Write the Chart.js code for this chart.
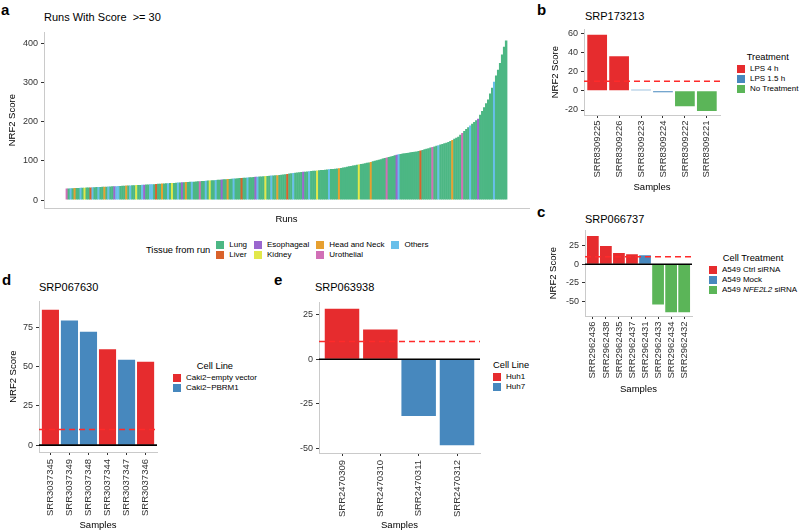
<!DOCTYPE html>
<html>
<head>
<meta charset="utf-8">
<script src="https://cdn.jsdelivr.net/npm/chart.js@4.4.1/dist/chart.umd.min.js"></script>
<style>
  body { margin: 0; background: #fff; font-family: "Liberation Sans", Arial, sans-serif; }
  #fig { position: relative; width: 800px; height: 531px; overflow: hidden; }
  .box { position: absolute; }
  .box canvas { display: block; }
  .lbl { position: absolute; font-weight: bold; font-size: 15px; line-height: 15px; }
  .ttl { position: absolute; font-size: 11px; line-height: 11px; white-space: pre; }
  .leg { position: absolute; color: #000; }
  .leg .lt { font-size: 9.3px; line-height: 13px; text-align: center; white-space: nowrap; }
  .leg .it { font-size: 8px; height: 10px; line-height: 10px; display: flex; align-items: center; white-space: nowrap; }
  .leg .k { width: 8px; height: 8px; margin-right: 5px; flex: none; }
  #legA { display: flex; align-items: center; }
  #legA .lt { margin-right: 6px; }
  #legA .grid { display: grid; grid-template-rows: 10px 10px; grid-auto-flow: column; column-gap: 7px; }
</style>
</head>
<body>
<div id="fig">
  <div class="lbl" style="left:1px;top:2.3px">a</div>
  <div class="ttl" style="left:44px;top:11.7px">Runs With Score  &gt;= 30</div>
  <div class="box" style="left:0;top:24px"><canvas id="cA" width="537" height="201"></canvas></div>
  <div class="leg" id="legA" style="left:146px;top:240px"></div>

  <div class="lbl" style="left:537px;top:2.3px">b</div>
  <div class="ttl" style="left:585px;top:11.4px">SRP173213</div>
  <div class="box" style="left:548px;top:21px"><canvas id="cB" width="180" height="172"></canvas></div>
  <div class="leg" id="legB" style="left:737px;top:50.5px"></div>

  <div class="lbl" style="left:537px;top:204.3px">c</div>
  <div class="ttl" style="left:585px;top:214px">SRP066737</div>
  <div class="box" style="left:546px;top:222px"><canvas id="cC" width="154" height="173"></canvas></div>
  <div class="leg" id="legC" style="left:709px;top:252px"></div>

  <div class="lbl" style="left:2px;top:272.3px">d</div>
  <div class="ttl" style="left:39px;top:282.4px">SRP067630</div>
  <div class="box" style="left:0;top:293px"><canvas id="cD" width="165" height="238"></canvas></div>
  <div class="leg" id="legD" style="left:173px;top:359.5px"></div>

  <div class="lbl" style="left:274px;top:272.3px">e</div>
  <div class="ttl" style="left:315px;top:282.4px">SRP063938</div>
  <div class="box" style="left:295px;top:294px"><canvas id="cE" width="193" height="237"></canvas></div>
  <div class="leg" id="legE" style="left:493px;top:359px"></div>
</div>

<script>
// ---- panel a: all runs with score >= 30, sorted ----
const tissueCodes = ["L", "V", "E", "K", "H", "U", "O"];
const tissueNames = ["Lung", "Liver", "Esophageal", "Kidney", "Head and Neck", "Urothelial", "Others"];
const runScores = [
  29.5, 29.7, 30, 30.2, 30.4, 30.7, 30.9, 31.1, 31.4, 31.6, 31.8, 32, 32.3, 32.5, 32.7, 33, 33.2, 33.4,
  33.6, 33.8, 34.1, 34.4, 34.6, 34.9, 35.2, 35.5, 35.7, 36, 36.3, 36.5, 36.8, 37.1, 37.4, 37.6, 37.9,
  38.2, 38.4, 38.7, 39, 39.3, 39.5, 39.8, 40,
  40.3, 40.6, 41, 41.3, 41.6, 41.9, 42.2, 42.6, 42.9, 43.2, 43.5, 43.8, 44.2, 44.5, 44.8, 45.1, 45.4,
  45.8, 46.1, 46.4, 46.7, 47, 47.4, 47.7, 48,
  48.4, 48.8, 49.2, 49.6, 50, 50.4, 50.8, 51.2, 51.6, 52, 52.4, 52.8, 53.2, 53.6, 54, 54.4, 54.8, 55.2,
  55.6, 56, 56.4, 56.8, 57.2, 57.6, 58,
  58.4, 58.8, 59.2, 59.6, 60, 60.4, 60.8, 61.2, 61.6, 62, 62.4, 62.8, 63.2, 63.6, 64,
  64.7, 65.4, 66.1, 66.8, 67.5, 68.2, 68.9, 69.6, 70.3, 71,
  71.5, 72, 72.5, 73, 73.5, 74, 74.5, 75, 75.5, 76, 76.5, 77, 77.5, 78, 78.5, 79, 79.5, 80, 80.5, 81,
  82, 83, 84, 85, 86, 87, 88, 89, 90, 91, 92, 93, 94, 95, 96,
  97.4, 98.8, 100.2, 101.6, 103, 104.4, 105.8, 107.2, 108.6, 110, 111.4, 112.8, 114.2, 115.6, 117,
  117.8, 118.6, 119.4, 120.2, 121, 121.8, 122.6, 123.4, 124.2, 125,
  126.5, 128, 129.5, 131, 132.5, 134, 135.5, 137, 138.5, 140,
  141.6, 143.2, 144.8, 146.4, 148,
  150.8, 153.6, 156.4, 159.2, 162,
  166.8, 171.6, 176.4, 181.2, 186,
  190.4, 194.8, 199.2, 203.6, 208,
  217.8, 227.6, 237.4, 247.2, 257,
  272, 287, 302, 318, 333,
  350, 372, 392, 408
];
const runTissue = (
  "ULOLHLLOLK" + "LLVOLLOLLH" + "LOLLEOOLLL" + "HLOLLKLLOE" + "LLOOLVLLHL" +
  "LOLKLLOLEL" + "HLLOLLLULL" + "OLKLLOLLEL" + "LHLLOLLLVL" + "LOLLLEOLLL" +
  "KLLOLLHLLL" + "LVLLOLLLLE" + "LLOLLLKLLL" + "LLOLLLLHLL" + "LLLLLLLKLL" +
  "LLLHLLLLLL" + "LULLLLEOLL" + "LLLLLLLLVL" + "LLLLULLOLL" + "LLLLHLLLLU" +
  "LLLOLLLELL" + "LLLLLOLLLL" + "LL"
).split("");
const aTicks = [0, 100, 200, 300, 400];

// ---- panel b: SRP173213 ----
const bSamples = ["SRR8309225", "SRR8309226", "SRR8309223", "SRR8309224", "SRR8309222", "SRR8309221"];
const bScores = [58.5, 36, 1, -1.4, -16, -21];
const bGroup = [0, 0, 1, 1, 2, 2];
const bGroupNames = ["LPS 4 h", "LPS 1.5 h", "No Treatment"];
const bTicks = [-20, 0, 20, 40, 60];

// ---- panel c: SRP066737 ----
const cSamples = ["SRR2962436", "SRR2962438", "SRR2962435", "SRR2962437", "SRR2962431", "SRR2962433", "SRR2962434", "SRR2962432"];
const cScores = [38, 24.5, 15.2, 13.4, 12, -54, -64.7, -64.7];
const cGroup = [0, 0, 0, 0, 1, 2, 2, 2];
const cGroupNames = ["A549 Ctrl siRNA", "A549 Mock", "A549 <i>NFE2L2</i> siRNA"];
const cTicks = [-50, -25, 0, 25];

// ---- panel d: SRP067630 ----
const dSamples = ["SRR3037345", "SRR3037349", "SRR3037348", "SRR3037344", "SRR3037347", "SRR3037346"];
const dScores = [86, 79.2, 72, 61, 54.2, 53];
const dGroup = [0, 1, 1, 0, 1, 0];
const dGroupNames = ["Caki2\u2212empty vector", "Caki2\u2212PBRM1"];
const dTicks = [0, 25, 50, 75];

// ---- panel e: SRP063938 ----
const eSamples = ["SRR2470309", "SRR2470310", "SRR2470311", "SRR2470312"];
const eScores = [28.2, 16.7, -31.7, -48];
const eGroup = [0, 0, 1, 1];
const eGroupNames = ["Huh1", "Huh7"];
const eTicks = [-50, -25, 0, 25];

const threshold = 10;

// colours
const tissueColors = ["#4cb784", "#d9622b", "#9a67cf", "#e2e84a", "#e7a030", "#d16fb6", "#68bfea"];
const set1 = ["rgba(228,26,28,0.92)", "rgba(55,126,184,0.92)", "rgba(77,175,74,0.92)"];
const AXIS_GREY = "#cacaca";
const TEXT = "#333";

Chart.defaults.font.family = '"Liberation Sans", Arial, sans-serif';
Chart.defaults.color = TEXT;

// dashed threshold line and black zero line
const refLines = {
  id: "refLines",
  afterDatasetsDraw(chart, args, opts) {
    const { ctx, chartArea: a } = chart;
    const y = chart.scales.y;
    ctx.save();
    if (opts.zero) {
      const y0 = y.getPixelForValue(0);
      ctx.strokeStyle = "#000";
      ctx.lineWidth = 1.6;
      ctx.beginPath();
      ctx.moveTo(a.left, y0);
      ctx.lineTo(a.right, y0);
      ctx.stroke();
    }
    if (opts.dashed != null) {
      const yd = y.getPixelForValue(opts.dashed);
      ctx.strokeStyle = "#ff2a2a";
      ctx.lineWidth = 1.5;
      ctx.setLineDash([6, 4]);
      ctx.beginPath();
      ctx.moveTo(a.left, yd);
      ctx.lineTo(a.right, yd);
      ctx.stroke();
    }
    ctx.restore();
  },
};

function yScore(min, max, ticks, title, width, titlePad) {
  return {
    type: "linear",
    min: min,
    max: max,
    afterBuildTicks: (ax) => { ax.ticks = ticks.map((v) => ({ value: v })); },
    afterFit: (ax) => { ax.width = width; },
    grid: { display: true, drawOnChartArea: false, drawTicks: true, tickLength: 3, color: TEXT },
    border: { display: true, color: AXIS_GREY },
    ticks: { padding: 3, font: { size: 9 }, color: TEXT },
    title: { display: !!title, text: title, font: { size: 9.5 }, color: "#000", padding: { top: titlePad, bottom: 0 } },
  };
}

function xSamples(labels, height, pad) {
  return {
    type: "linear",
    offset: false,
    min: -0.6,
    max: labels.length - 0.4,
    afterBuildTicks: (ax) => { ax.ticks = labels.map((_, i) => ({ value: i })); },
    afterFit: (ax) => { ax.height = height; },
    grid: { display: true, offset: false, drawOnChartArea: false, drawTicks: true, tickLength: 3, color: TEXT },
    border: { display: true, color: AXIS_GREY },
    ticks: { autoSkip: false, minRotation: 90, maxRotation: 90, padding: pad, font: { size: 9.5 }, color: TEXT,
             callback: (v) => labels[v] },
    title: { display: true, text: "Samples", font: { size: 9.5 }, color: "#000", padding: { top: 0, bottom: 0 } },
  };
}

function samplePanel(id, p) {
  return new Chart(document.getElementById(id), {
    type: "bar",
    data: {
      datasets: [{
        data: p.scores.map((v, i) => ({ x: i, y: v })),
        backgroundColor: p.groups.map((g) => set1[g]),
        borderWidth: 0,
        barPercentage: 0.9,
        categoryPercentage: 1,
      }],
    },
    options: {
      responsive: false,
      animation: false,
      devicePixelRatio: 1,
      layout: { padding: { top: 8, right: 8, left: 0, bottom: 0 } },
      plugins: {
        legend: { display: false },
        tooltip: { enabled: false },
        refLines: { dashed: threshold, zero: p.zero },
      },
      scales: {
        x: xSamples(p.samples, p.xHeight, p.xPad),
        y: yScore(p.yMin, p.yMax, p.yTicks, p.yTitle, p.yWidth, p.yTitlePad),
      },
    },
    plugins: [refLines],
  });
}

function legend(id, title, names, colors) {
  const el = document.getElementById(id);
  let html = '<div class="lt">' + title + "</div>";
  names.forEach((n, i) => {
    html += '<div class="it"><span class="k" style="background:' + colors[i] + '"></span><span>' + n + "</span></div>";
  });
  el.innerHTML = html;
}

// panel a
new Chart(document.getElementById("cA"), {
  type: "bar",
  data: {
    datasets: [{
      data: runScores.map((v, i) => ({ x: i, y: v })),
      backgroundColor: runTissue.map((c) => tissueColors[tissueCodes.indexOf(c)]),
      borderWidth: 0,
      barPercentage: 1.25,
      categoryPercentage: 1,
    }],
  },
  options: {
    responsive: false,
    animation: false,
    devicePixelRatio: 1,
    layout: { padding: { top: 8, right: 8, left: 0, bottom: 0 } },
    plugins: { legend: { display: false }, tooltip: { enabled: false } },
    scales: {
      x: {
        type: "linear",
        offset: false,
        min: -11.5,
        max: runScores.length - 1 + 11.5,
        afterFit: (ax) => { ax.height = 17; },
        grid: { display: false, offset: false },
        border: { display: true, color: AXIS_GREY },
        ticks: { display: false },
        title: { display: true, text: "Runs", font: { size: 9.5 }, color: "#000", padding: { top: 0, bottom: 0 } },
      },
      y: yScore(-20.4, 428.4, aTicks, "NRF2 Score", 44, 6.8),
    },
  },
});

{
  const el = document.getElementById("legA");
  let html = '<div class="lt">Tissue from run</div><div class="grid">';
  tissueNames.forEach((n, i) => {
    html += '<div class="it"><span class="k" style="background:' + tissueColors[i] + '"></span><span>' + n + "</span></div>";
  });
  el.innerHTML = html + "</div>";
}

samplePanel("cB", { samples: bSamples, scores: bScores, groups: bGroup, zero: false, xPad: 2.5,
  yMin: -25.2, yMax: 64, yTicks: bTicks, yTitle: "NRF2 Score", yWidth: 36, yTitlePad: 1.3, xHeight: 78 });
legend("legB", "Treatment", bGroupNames, set1);

samplePanel("cC", { samples: cSamples, scores: cScores, groups: cGroup, zero: true, xPad: 2.5,
  yMin: -69.6, yMax: 45.5, yTicks: cTicks, yTitle: "NRF2 Score", yWidth: 39, yTitlePad: 1.3, xHeight: 79 });
legend("legC", "Cell Treatment", cGroupNames, set1);

samplePanel("cD", { samples: dSamples, scores: dScores, groups: dGroup, zero: true, xPad: 4,
  yMin: -4.35, yMax: 91.35, yTicks: dTicks, yTitle: "NRF2 Score", yWidth: 39, yTitlePad: 7.3, xHeight: 79 });
legend("legD", "Cell Line", dGroupNames, set1);

samplePanel("cE", { samples: eSamples, scores: eScores, groups: eGroup, zero: true, xPad: 4,
  yMin: -52.4, yMax: 31.8, yTicks: eTicks, yTitle: "", yWidth: 24, yTitlePad: 0, xHeight: 78 });
legend("legE", "Cell Line", eGroupNames, set1);
</script>
</body>
</html>
